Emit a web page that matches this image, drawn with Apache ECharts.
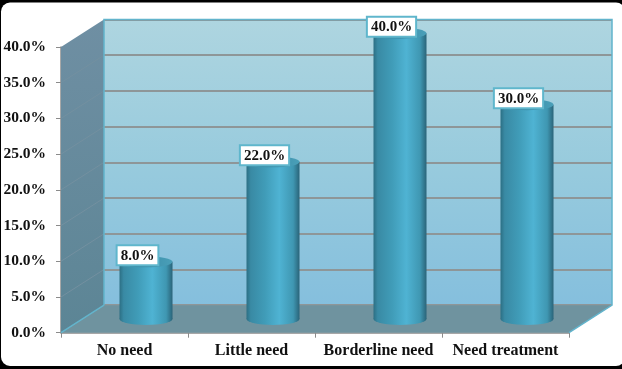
<!DOCTYPE html>
<html>
<head>
<meta charset="utf-8">
<style>html,body{margin:0;padding:0;background:#000;}#c{position:absolute;left:0;top:0;width:622px;height:369px;}</style>
<script src="https://cdn.jsdelivr.net/npm/echarts@6/dist/echarts.min.js"></script>
</head>
<body>
<div id="c"></div>
<script>
const categories = ['No need', 'Little need', 'Borderline need', 'Need treatment'];
const needShare = [8, 22, 40, 30];
const axisTicks = [0, 5, 10, 15, 20, 25, 30, 35, 40];

const font = 'Liberation Serif';
const F = {l: 61, r: 569, t: 47, b: 332.7};   // front plane
const dx = 43, dy = 27.5;                     // depth offset
const W = F.r - F.l, H = F.b - F.t;
const grad = (x, y, x2, y2, stops) => ({type: 'linear', x, y, x2, y2,
  colorStops: stops.map(s => ({offset: s[0], color: s[1]}))});
const barGrad = grad(0, 0, 1, 0, [[0, '#2c6f84'], [0.08, '#398aa4'], [0.35, '#409cb8'], [0.62, '#4fb3d3'], [0.88, '#3f97b2'], [1, '#2a6479']]);
const pct = v => v.toFixed(1) + '%';

const chart = echarts.init(document.getElementById('c'), null, {renderer: 'canvas'});
const grids = [
  {left: F.l + dx, top: F.t - dy, width: W, height: H, show: true, borderWidth: 0,
   backgroundColor: grad(0, 0, 0, 1, [[0, '#aed5e0'], [0.5, '#98cbdd'], [1, '#85bfdd']])},
  {left: F.l, top: F.t, width: W, height: H},
  {left: F.l + dx / 2, top: F.t - dy / 2, width: W, height: H}
];
const slantLines = axisTicks.slice(1, -1).map(t => {
  const y = F.b - H * t / 40;
  return {type: 'line', z: 1, shape: {x1: F.l, y1: y, x2: F.l + dx, y2: y - dy},
          style: {stroke: '#7390a0', lineWidth: 1}};
});
const graphic = [
  {type: 'rect', z: -2, shape: {x: 1, y: 2.5, width: 624, height: 363.5, r: 9}, style: {fill: '#fff'}},
  {type: 'polygon', z: 1, shape: {points: [[F.l, F.t], [F.l + dx, F.t - dy], [F.l + dx, F.b - dy], [F.l, F.b]]},
   style: {fill: grad(0, 0, 0, 1, [[0, '#6f8fa3'], [1, '#5c8595']])}},
  ...slantLines,
  {type: 'polygon', z: 1, shape: {points: [[F.l, F.b], [F.l + dx, F.b - dy], [F.r + dx, F.b - dy], [F.r, F.b]]},
   style: {fill: '#6f939f'}},
  {type: 'polyline', z: 1, shape: {points: [[F.l + dx, F.b - dy], [F.l + dx, F.t - dy], [F.r + dx, F.t - dy], [F.r + dx, F.b - dy], [F.r, F.b]]},
   style: {stroke: '#62b4cc', lineWidth: 1.5, fill: null}},
  {type: 'line', z: 1, shape: {x1: F.l, y1: F.b, x2: F.l + dx, y2: F.b - dy}, style: {stroke: '#62b4cc', lineWidth: 1.5}}
];
const valueAxis = (i, extra) => Object.assign({type: 'value', gridIndex: i, min: 0, max: 40, interval: 5,
  axisLabel: {show: false}, axisTick: {show: false}, axisLine: {show: false}, splitLine: {show: false}}, extra);
const catAxis = (i, extra) => Object.assign({type: 'category', gridIndex: i, data: categories,
  axisLabel: {show: false}, axisTick: {show: false}, axisLine: {show: false}}, extra);

chart.setOption({
  animation: false,
  backgroundColor: 'transparent',
  graphic,
  grid: grids,
  xAxis: [
    catAxis(0),
    catAxis(1, {
      axisLine: {show: true, onZero: false, lineStyle: {color: '#8b8b8b', width: 1.5}},
      axisTick: {show: true, length: 5, alignWithLabel: false, lineStyle: {color: '#8b8b8b'}},
      axisLabel: {show: true, color: '#111', fontFamily: font, fontWeight: 'bold', fontSize: 16, margin: 10, interval: 0}
    }),
    catAxis(2)
  ],
  yAxis: [
    valueAxis(0, {splitLine: {show: true, lineStyle: {color: '#8e9698', width: 2}}}),
    valueAxis(1, {
      axisLine: {show: true, lineStyle: {color: '#8b8b8b', width: 1.5}},
      axisTick: {show: true, length: 5, lineStyle: {color: '#8b8b8b'}},
      axisLabel: {show: true, color: '#111', fontFamily: font, fontWeight: 'bold', fontSize: 15.5, margin: 15,
                  formatter: v => pct(v)}
    }),
    valueAxis(2)
  ],
  series: [
    {type: 'pictorialBar', xAxisIndex: 2, yAxisIndex: 2, z: 3, data: needShare, symbol: 'circle',
     symbolSize: [53, 12], symbolPosition: 'start', symbolOffset: [0, '50%'], itemStyle: {color: barGrad}},
    {type: 'bar', xAxisIndex: 2, yAxisIndex: 2, z: 4, data: needShare, barWidth: 53, itemStyle: {color: barGrad}},
    {type: 'pictorialBar', xAxisIndex: 2, yAxisIndex: 2, z: 5, data: needShare, symbol: 'circle',
     symbolSize: [53, 11], symbolPosition: 'end', symbolOffset: [0, '-50%'],
     itemStyle: {color: grad(0, 0, 1, 0, [[0, '#2f7f98'], [0.5, '#3b8fab'], [1, '#4a9fb8']])},
     label: {show: true, position: 'top', distance: 0, offset: [-8.5, 8],
       formatter: p => pct(p.value), color: '#111', fontFamily: font, fontWeight: 'bold', fontSize: 15,
       backgroundColor: '#fff', borderColor: '#5fb6cc', borderWidth: 2, padding: [2, 3, 1, 3]}}
  ]
});
</script>
</body>
</html>
